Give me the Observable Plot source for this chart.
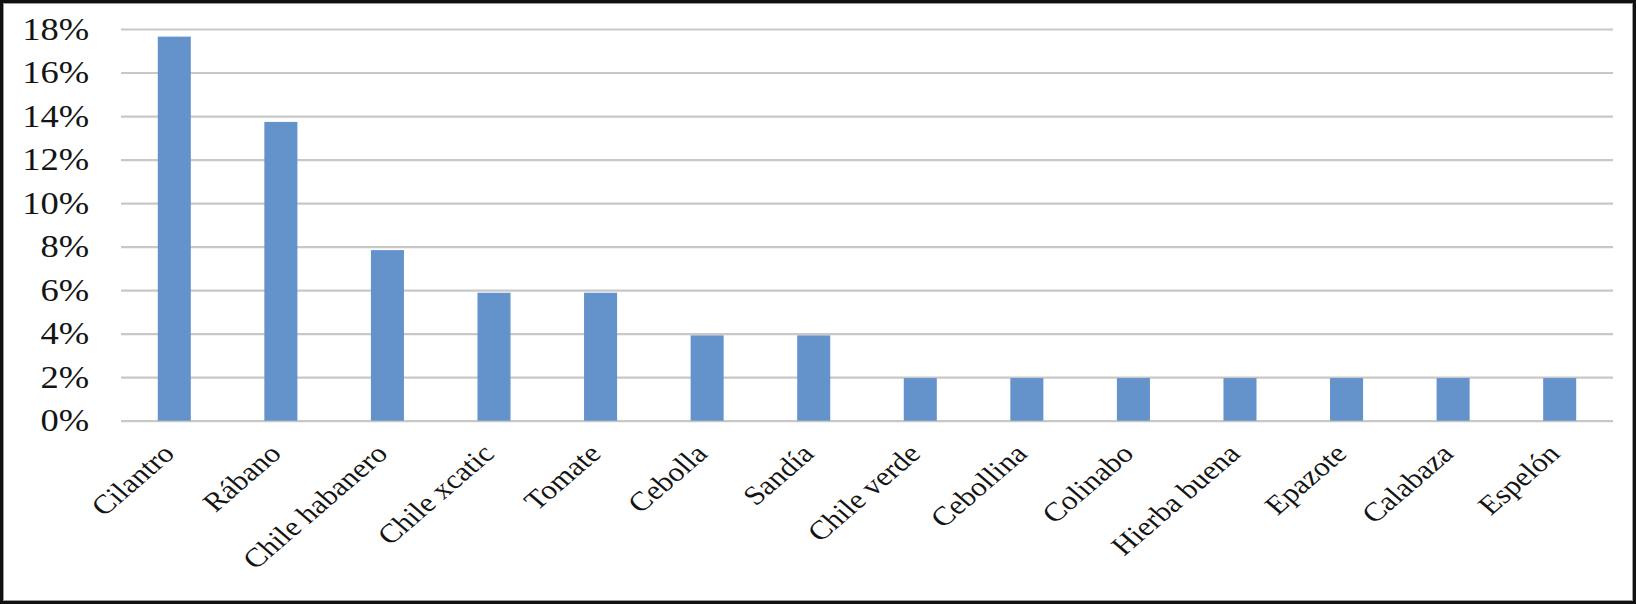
<!DOCTYPE html>
<html>
<head>
<meta charset="utf-8">
<script src="https://cdn.jsdelivr.net/npm/d3@7"></script>
<script src="https://cdn.jsdelivr.net/npm/@observablehq/plot@0.6"></script>
<style>
  html, body { margin: 0; padding: 0; background: #fff; }
  #wrap { position: relative; width: 1636px; height: 604px; overflow: hidden; background: #fff; }
  #chart { position: absolute; left: 0; top: 0; transform-origin: 0 0; }
  #frame { position: absolute; left: 0; top: 0; width: 1636px; height: 604px; box-sizing: border-box;
           border: 3px solid #111; box-shadow: inset 0 0 0 1px #9a9a9a; pointer-events: none; }
</style>
</head>
<body>
<div id="wrap"><div id="chart"></div><div id="frame"></div></div>
<script>
const categories = ["Cilantro", "Rábano", "Chile habanero", "Chile xcatic", "Tomate", "Cebolla", "Sandía",
  "Chile verde", "Cebollina", "Colinabo", "Hierba buena", "Epazote", "Calabaza", "Espelón"];
const values = [17.65, 13.73, 7.84, 5.88, 5.88, 3.92, 3.92, 1.96, 1.96, 1.96, 1.96, 1.96, 1.96, 1.96];
const yTicks = [0, 2, 4, 6, 8, 10, 12, 14, 16, 18];

const data = categories.map((c, i) => ({name: c, value: values[i]}));

const S = 1.16;            // horizontal stretch of the original image
const W = 1636 / S;

const plot = Plot.plot({
  width: W,
  height: 604,
  marginLeft: 121 / S,
  marginRight: (1636 - 1613) / S,
  marginTop: 29,
  marginBottom: 604 - 420.7,
  style: {fontFamily: "'Liberation Serif', 'Times New Roman', serif", fontSize: "31.5px", color: "#141414", background: "transparent"},
  x: {domain: categories, paddingInner: 0.69, paddingOuter: 0.345, round: false, label: null},
  y: {domain: [0, 18], label: null},
  marks: [
    Plot.ruleY(yTicks, {stroke: "#c8c8c8", strokeWidth: 2.2, strokeOpacity: 1}),
    Plot.barY(data, {x: "name", y: "value", fill: "#6393ca"}),
    Plot.axisY({ticks: yTicks, tickFormat: d => d + "%", tickSize: 0, tickPadding: 28, label: null}),
    Plot.axisX({tickRotate: -45, tickSize: 0, tickPadding: 28, label: null, dx: -5, fontSize: 26.8})
  ]
});
const chart = document.getElementById("chart");
chart.appendChild(plot);
chart.style.transform = `scaleX(${S})`;
</script>
</body>
</html>
